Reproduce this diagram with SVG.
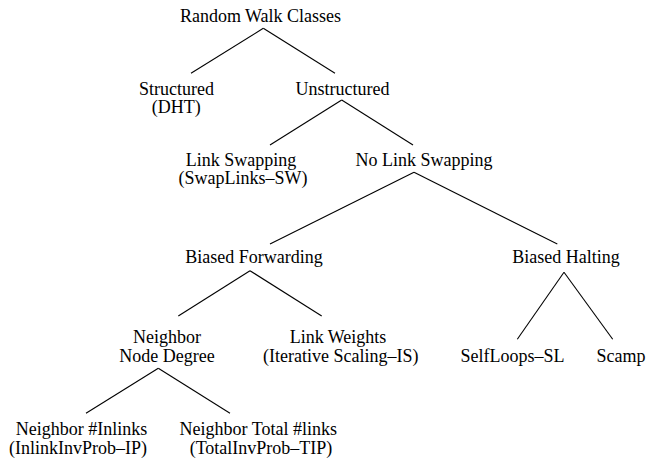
<svg xmlns="http://www.w3.org/2000/svg" width="646" height="460" viewBox="0 0 646 460">
<style>
text{font-family:"Liberation Serif","Times New Roman",serif;font-size:18px;fill:#000;text-anchor:middle}
line{stroke:#000;stroke-width:1.1;fill:none}
</style>
<rect width="646" height="460" fill="#fff"/>
<g id="connectors">
<line x1="263.3" y1="28.3" x2="191" y2="73.3"/>
<line x1="263.3" y1="28.3" x2="335" y2="73.3"/>
<line x1="341.7" y1="100" x2="270" y2="145"/>
<line x1="341.7" y1="100" x2="413" y2="145"/>
<line x1="414" y1="172.3" x2="270" y2="244"/>
<line x1="414" y1="172.3" x2="557.3" y2="244"/>
<line x1="250" y1="270.7" x2="178.3" y2="316"/>
<line x1="250" y1="270.7" x2="321.7" y2="316"/>
<line x1="564" y1="272.3" x2="517.3" y2="339.3"/>
<line x1="564" y1="272.3" x2="612.7" y2="339.3"/>
<line x1="158.3" y1="368.3" x2="86" y2="413.3"/>
<line x1="158.3" y1="368.3" x2="230" y2="413.3"/>
</g>
<g id="root"><text x="260.5" y="22">Random Walk Classes</text></g>
<g id="structured"><text x="176.5" y="95">Structured</text><text x="176.3" y="113">(DHT)</text></g>
<g id="unstructured"><text x="342.5" y="95">Unstructured</text></g>
<g id="linkswapping"><text x="241" y="166">Link Swapping</text><text x="243" y="184">(SwapLinks–SW)</text></g>
<g id="nolinkswapping"><text x="424" y="166">No Link Swapping</text></g>
<g id="biasedforwarding"><text x="254" y="263">Biased Forwarding</text></g>
<g id="biasedhalting"><text x="566" y="263">Biased Halting</text></g>
<g id="nodedegree"><text x="167" y="343">Neighbor</text><text x="167" y="362">Node Degree</text></g>
<g id="linkweights"><text x="338" y="343">Link Weights</text><text x="340.7" y="362">(Iterative Scaling–IS)</text></g>
<g id="selfloops"><text x="512.5" y="362">SelfLoops–SL</text></g>
<g id="scamp"><text x="621" y="362">Scamp</text></g>
<g id="inlinks"><text x="81.5" y="435">Neighbor #Inlinks</text><text x="78" y="454">(InlinkInvProb–IP)</text></g>
<g id="totallinks"><text x="258.3" y="435">Neighbor Total #links</text><text x="261" y="454">(TotalInvProb–TIP)</text></g>
</svg>
